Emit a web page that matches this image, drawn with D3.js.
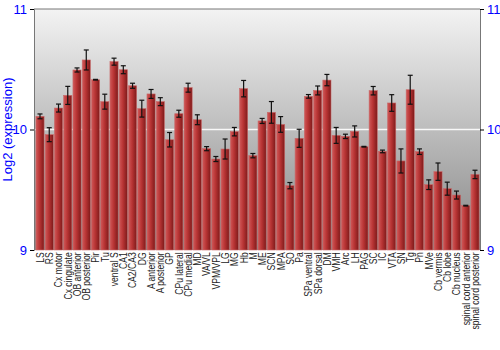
<!DOCTYPE html>
<html><head><meta charset="utf-8">
<script src="https://cdn.jsdelivr.net/npm/d3@7"></script>
<style>body{margin:0;background:#fff}svg{display:block}</style>
</head><body><div id="c"></div>
<script>
const categories = ["LS","RS","Cx motor","Cx cingulate","OB anterior","OB posterior","Pir","Tu","ventral S","CA1","CA2/CA3","DG","A anterior","A posterior","GP","CPu lateral","CPu medial","MD","VA/VL","VPM/VPL","LG","MG","Hb","M","ME","SCN","MPA","SO","Pa","SPa ventral","SPa dorsal","DM","VMH","Arc","LH","PAG","SC","IC","VTA","SN","Tg","Pn","MVe","Cb vermis","Cb lobe","Cb nucleus","spinal cord anterior","spinal cord posterior"];
const values = [10.109,9.957,10.178,10.283,10.494,10.577,10.413,10.231,10.563,10.496,10.363,10.173,10.295,10.231,9.915,10.131,10.347,10.081,9.841,9.755,9.838,9.982,10.339,9.783,10.071,10.142,10.042,9.534,9.927,10.275,10.324,10.41,9.951,9.943,9.984,9.857,10.322,9.818,10.22,9.739,10.33,9.816,9.542,9.65,9.509,9.456,9.368,9.627];
const errors = [0.02,0.058,0.033,0.075,0.017,0.083,0.003,0.062,0.029,0.033,0.021,0.07,0.037,0.033,0.06,0.029,0.037,0.041,0.017,0.021,0.083,0.035,0.068,0.018,0.021,0.09,0.065,0.026,0.075,0.015,0.037,0.047,0.066,0.018,0.046,0.003,0.035,0.011,0.069,0.1,0.12,0.023,0.04,0.072,0.054,0.033,0.003,0.035];
const yTicks = [9,10,11];
const yLabel = "Log2 (expression)";

const W=500,H=350, m={l:34,r:20,t:9,b:100};
const svg=d3.select("#c").append("svg").attr("width",W).attr("height",H);
const defs=svg.append("defs");
const bg=defs.append("linearGradient").attr("id","bg").attr("x1",0).attr("y1",0).attr("x2",0).attr("y2",1);
bg.append("stop").attr("offset","0%").attr("stop-color","#f3f3f3");
bg.append("stop").attr("offset","100%").attr("stop-color","#868686");
const bg2=defs.append("linearGradient").attr("id","bar").attr("x1",0).attr("y1",0).attr("x2",1).attr("y2",0);
bg2.append("stop").attr("offset","0%").attr("stop-color","#d05858");
bg2.append("stop").attr("offset","45%").attr("stop-color","#b83434");
bg2.append("stop").attr("offset","100%").attr("stop-color","#7e1a1a");

const x=d3.scaleBand().domain(categories).range([m.l+1,W-m.r]).paddingInner(0.12).paddingOuter(0.1);
const y=d3.scaleLinear().domain([9,11]).range([250,m.t]);

svg.append("rect").attr("x",m.l).attr("y",y(11)).attr("width",W-m.r-m.l).attr("height",y(9)-y(11)).attr("fill","url(#bg)");
svg.append("line").attr("x1",m.l).attr("x2",W-m.r).attr("y1",y(10)).attr("y2",y(10)).attr("stroke","#fff").attr("stroke-width",1.5).attr("opacity",0.9);

const g=svg.append("g");
categories.forEach((c,i)=>{
  g.append("rect").attr("x",x(c)).attr("y",y(values[i])).attr("width",x.bandwidth()).attr("height",y(9)-y(values[i]))
   .attr("fill","url(#bar)").attr("stroke","#c86868").attr("stroke-width",0.6);
  const cx=x(c)+x.bandwidth()/2;
  const y1=y(values[i]+errors[i]), y2=y(values[i]-errors[i]);
  g.append("line").attr("x1",cx).attr("x2",cx).attr("y1",y1).attr("y2",y2).attr("stroke","#111").attr("stroke-width",1.2);
  [y1,y2].forEach(yy=>g.append("line").attr("x1",cx-2.5).attr("x2",cx+2.5).attr("y1",yy).attr("y2",yy).attr("stroke","#111").attr("stroke-width",1.2));
});

// frame
svg.append("line").attr("x1",m.l).attr("x2",W-m.r).attr("y1",y(11)).attr("y2",y(11)).attr("stroke","#777");
const la=svg.append("g").attr("transform",`translate(${m.l},0)`).call(d3.axisLeft(y).tickValues(yTicks).tickSize(4).tickFormat(d3.format("d")));
const ra=svg.append("g").attr("transform",`translate(${W-m.r},0)`).call(d3.axisRight(y).tickValues(yTicks).tickSize(4).tickFormat(d3.format("d")));
[la,ra].forEach(a=>{
  a.select(".domain").attr("stroke","#777");
  a.selectAll(".tick line").attr("stroke","#000");
  a.selectAll("text").attr("fill","#0000ff").attr("font-family","Liberation Sans, Arial, sans-serif").attr("font-size",13);
});
const xa=svg.append("g").attr("transform",`translate(0,${y(9)})`).call(d3.axisBottom(x).tickSize(0));
xa.select(".domain").remove();
xa.selectAll("text").attr("transform","rotate(-90) scale(0.78,1)").attr("text-anchor","end").attr("dx","-3").attr("dy","0")
  .attr("x",0).attr("y",0).attr("dominant-baseline","central")
  .attr("font-family","Liberation Sans, Arial, sans-serif").attr("font-size",11).attr("fill","#222");
svg.append("text").attr("transform",`translate(12,${(y(9)+y(11))/2}) rotate(-90)`).attr("text-anchor","middle")
  .attr("font-family","Liberation Sans, Arial, sans-serif").attr("font-size",13).attr("fill","#0000ff").text(yLabel);
</script></body></html>
